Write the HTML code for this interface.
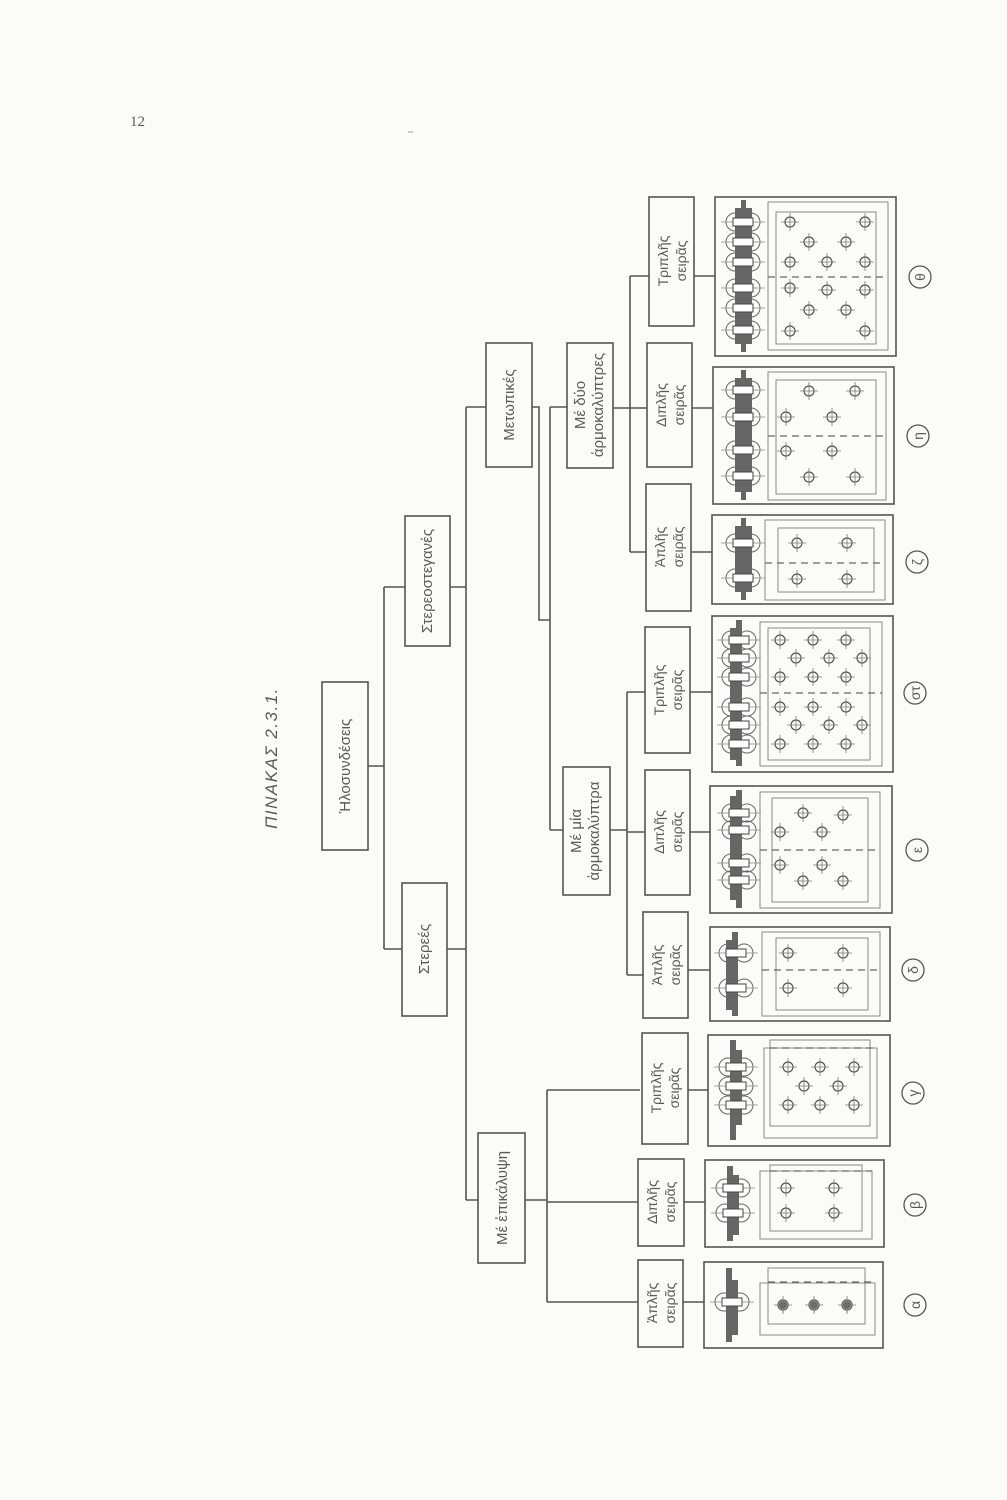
<!DOCTYPE html>
<html><head><meta charset="utf-8"><style>
html,body{margin:0;padding:0;background:#fbfbfa}
svg{display:block}
text{font-family:"Liberation Sans","DejaVu Sans",sans-serif;fill:#5a5a5a}
</style></head><body>
<svg width="1007" height="1500" viewBox="0 0 1007 1500" xmlns="http://www.w3.org/2000/svg">
<defs>
<symbol id="r" overflow="visible"><circle cx="0" cy="0" r="5" fill="none" stroke="#555" stroke-width="1.2"/><line x1="-9" y1="0" x2="9" y2="0" stroke="#777" stroke-width="0.8"/><line x1="0" y1="-9" x2="0" y2="9" stroke="#777" stroke-width="0.8"/></symbol>
<symbol id="rv" overflow="visible"><circle cx="-8" cy="0" r="9" fill="none" stroke="#666" stroke-width="1"/><circle cx="8" cy="0" r="9" fill="none" stroke="#666" stroke-width="1"/><line x1="-22" y1="0" x2="22" y2="0" stroke="#888" stroke-width="0.7"/><rect x="-10" y="-4" width="20" height="8" fill="#fff" stroke="#444" stroke-width="1"/></symbol>
</defs>
<text x="130" y="126" font-family="Liberation Serif" font-size="15" style="font-family:'Liberation Serif',serif">12</text>
<line x1="408" y1="132" x2="413" y2="132" stroke="#999"/>
<text transform="translate(277,758) rotate(-90)" text-anchor="middle" font-size="17" font-style="italic" letter-spacing="1.5">ΠΙΝΑΚΑΣ 2.3.1.</text>

<g fill="none" stroke="#555" stroke-width="1.6">
<!-- connectors -->
<path d="M368 766H384M384 587V949M384 587H405M384 949H402"/>
<path d="M450 587H466M447 949H466M466 407V1200M466 407H486M466 1200H478"/>
<path d="M525 1200H547M547 1090V1302M547 1090H640M547 1202H638M547 1302H638"/>
<path d="M532 407H539V620H550M550 407V830M550 407H567M550 830H563"/>
<path d="M610 830H627M627 692V975M627 692H645M627 832H645M627 975H643"/>
<path d="M613 408H630M630 276V552M630 276H649M630 408H647M630 552H646"/>
<path d="M683 1302H704M684 1202H705M688 1090H708M688 970H710M690 832H710M690 692H712M691 552H712M692 408H713M694 276H715"/>
<!-- boxes -->
<rect x="322" y="682" width="46" height="168"/>
<rect x="402" y="883" width="45" height="133"/>
<rect x="405" y="516" width="45" height="130"/>
<rect x="478" y="1133" width="47" height="130"/>
<rect x="486" y="343" width="46" height="124"/>
<rect x="563" y="767" width="47" height="128"/>
<rect x="567" y="343" width="46" height="125"/>
<rect x="638" y="1260" width="45" height="87"/>
<rect x="638" y="1159" width="46" height="87"/>
<rect x="642" y="1033" width="46" height="111"/>
<rect x="643" y="912" width="45" height="106"/>
<rect x="645" y="770" width="45" height="125"/>
<rect x="645" y="627" width="45" height="126"/>
<rect x="646" y="484" width="45" height="127"/>
<rect x="647" y="343" width="45" height="124"/>
<rect x="649" y="197" width="45" height="129"/>
<!-- panels -->
<rect x="704" y="1262" width="179" height="86"/>
<rect x="705" y="1160" width="179" height="87"/>
<rect x="708" y="1035" width="182" height="111"/>
<rect x="710" y="927" width="180" height="94"/>
<rect x="710" y="786" width="182" height="127"/>
<rect x="712" y="616" width="181" height="156"/>
<rect x="712" y="515" width="181" height="89"/>
<rect x="713" y="367" width="181" height="137"/>
<rect x="715" y="197" width="181" height="159"/>
</g>

<!-- box texts -->
<g font-size="15" text-anchor="middle">
<text transform="translate(350,766) rotate(-90)">Ἡλοσυνδέσεις</text>
<text transform="translate(429,949) rotate(-90)">Στερεές</text>
<text transform="translate(432,581) rotate(-90)">Στερεοστεγανές</text>
<text transform="translate(507,1198) rotate(-90)">Μέ ἐπικάλυψη</text>
<text transform="translate(514,405) rotate(-90)">Μετωπικές</text>
<text transform="translate(581,831) rotate(-90)">Μέ μία</text>
<text transform="translate(599,831) rotate(-90)">ἁρμοκαλύπτρα</text>
<text transform="translate(585,405) rotate(-90)">Μέ δύο</text>
<text transform="translate(603,405) rotate(-90)">ἁρμοκαλύπτρες</text>
</g>
<g font-size="14" text-anchor="middle">
<text transform="translate(657,1303) rotate(-90)">Ἁπλῆς</text><text transform="translate(675,1303) rotate(-90)">σειρᾶς</text>
<text transform="translate(657,1202) rotate(-90)">Διπλῆς</text><text transform="translate(675,1202) rotate(-90)">σειρᾶς</text>
<text transform="translate(661,1088) rotate(-90)">Τριπλῆς</text><text transform="translate(679,1088) rotate(-90)">σειρᾶς</text>
<text transform="translate(662,965) rotate(-90)">Ἁπλῆς</text><text transform="translate(680,965) rotate(-90)">σειρᾶς</text>
<text transform="translate(664,832) rotate(-90)">Διπλῆς</text><text transform="translate(682,832) rotate(-90)">σειρᾶς</text>
<text transform="translate(664,690) rotate(-90)">Τριπλῆς</text><text transform="translate(682,690) rotate(-90)">σειρᾶς</text>
<text transform="translate(665,547) rotate(-90)">Ἁπλῆς</text><text transform="translate(683,547) rotate(-90)">σειρᾶς</text>
<text transform="translate(666,405) rotate(-90)">Διπλῆς</text><text transform="translate(684,405) rotate(-90)">σειρᾶς</text>
<text transform="translate(668,261) rotate(-90)">Τριπλῆς</text><text transform="translate(686,261) rotate(-90)">σειρᾶς</text>
</g>

<!-- circle labels -->
<g fill="none" stroke="#555" stroke-width="1.3">
<circle cx="915" cy="1305" r="11"/><circle cx="915" cy="1205" r="11"/><circle cx="913" cy="1093" r="11"/>
<circle cx="913" cy="970" r="11"/><circle cx="917" cy="850" r="11"/><circle cx="915" cy="693" r="11"/>
<circle cx="917" cy="562" r="11"/><circle cx="918" cy="436" r="11"/><circle cx="920" cy="277" r="11"/>
</g>
<g font-size="14" text-anchor="middle">
<text transform="translate(920,1305) rotate(-90)">α</text><text transform="translate(920,1205) rotate(-90)">β</text>
<text transform="translate(918,1093) rotate(-90)">γ</text><text transform="translate(918,970) rotate(-90)">δ</text>
<text transform="translate(922,850) rotate(-90)">ε</text><text transform="translate(920,693) rotate(-90)">στ</text>
<text transform="translate(922,562) rotate(-90)">ζ</text><text transform="translate(923,436) rotate(-90)">η</text>
<text transform="translate(925,277) rotate(-90)">θ</text>
</g>

<!-- profiles: dark plates -->
<g fill="#666">
<rect x="726" y="1268" width="6" height="74"/><rect x="732" y="1280" width="6" height="55"/>
<rect x="727" y="1166" width="6" height="75"/><rect x="733" y="1175" width="6" height="60"/>
<rect x="730" y="1040" width="6" height="100"/><rect x="736" y="1050" width="6" height="75"/>
<rect x="732" y="932" width="6" height="84"/><rect x="726" y="940" width="6" height="70"/>
<rect x="736" y="790" width="6" height="118"/><rect x="730" y="796" width="6" height="104"/>
<rect x="736" y="620" width="6" height="146"/><rect x="730" y="628" width="6" height="132"/>
<rect x="741" y="518" width="5" height="82"/><rect x="735" y="526" width="6" height="66"/><rect x="746" y="526" width="6" height="66"/>
<rect x="741" y="370" width="5" height="130"/><rect x="735" y="378" width="6" height="114"/><rect x="746" y="378" width="6" height="114"/>
<rect x="741" y="200" width="5" height="152"/><rect x="735" y="208" width="6" height="136"/><rect x="746" y="208" width="6" height="136"/>
</g>
<!-- profile rivets -->
<use href="#rv" x="732" y="1302"/>
<use href="#rv" x="733" y="1188"/><use href="#rv" x="733" y="1213"/>
<use href="#rv" x="736" y="1067"/><use href="#rv" x="736" y="1086"/><use href="#rv" x="736" y="1105"/>
<use href="#rv" x="736" y="953"/><use href="#rv" x="736" y="988"/>
<use href="#rv" x="739" y="813"/><use href="#rv" x="739" y="830"/><use href="#rv" x="739" y="863"/><use href="#rv" x="739" y="880"/>
<use href="#rv" x="739" y="640"/><use href="#rv" x="739" y="658"/><use href="#rv" x="739" y="677"/><use href="#rv" x="739" y="707"/><use href="#rv" x="739" y="725"/><use href="#rv" x="739" y="744"/>
<use href="#rv" x="743" y="543"/><use href="#rv" x="743" y="578"/>
<use href="#rv" x="743" y="390"/><use href="#rv" x="743" y="417"/><use href="#rv" x="743" y="450"/><use href="#rv" x="743" y="476"/>
<use href="#rv" x="743" y="222"/><use href="#rv" x="743" y="242"/><use href="#rv" x="743" y="262"/><use href="#rv" x="743" y="288"/><use href="#rv" x="743" y="308"/><use href="#rv" x="743" y="330"/>

<!-- plan views -->
<g fill="none" stroke="#888" stroke-width="1">
<rect x="760" y="1283" width="115" height="52"/><rect x="768" y="1268" width="97" height="56"/>
<rect x="760" y="1171" width="112" height="68"/><rect x="770" y="1165" width="92" height="66"/>
<rect x="764" y="1048" width="113" height="90"/><rect x="770" y="1040" width="100" height="86"/>
<rect x="762" y="932" width="118" height="84"/><rect x="776" y="938" width="92" height="72"/>
<rect x="760" y="792" width="120" height="116"/><rect x="772" y="798" width="96" height="104"/>
<rect x="760" y="622" width="122" height="144"/><rect x="768" y="628" width="102" height="132"/>
<rect x="765" y="520" width="120" height="80"/><rect x="778" y="528" width="96" height="64"/>
<rect x="768" y="372" width="118" height="128"/><rect x="776" y="380" width="100" height="114"/>
<rect x="768" y="202" width="120" height="148"/><rect x="776" y="212" width="100" height="132"/>
</g>
<g stroke="#666" stroke-width="1.2" stroke-dasharray="7,5">
<line x1="768" y1="1282" x2="875" y2="1282"/><line x1="770" y1="1171" x2="872" y2="1171"/>
<line x1="770" y1="1048" x2="877" y2="1048"/><line x1="762" y1="970" x2="880" y2="970"/>
<line x1="760" y1="850" x2="880" y2="850"/><line x1="760" y1="693" x2="882" y2="693"/>
<line x1="765" y1="563" x2="885" y2="563"/><line x1="768" y1="436" x2="886" y2="436"/>
<line x1="768" y1="277" x2="888" y2="277"/>
</g>
<g fill="#666">
<circle cx="783" cy="1305" r="4"/><circle cx="814" cy="1305" r="4"/><circle cx="847" cy="1305" r="4"/>
</g>
<use href="#r" x="783" y="1305"/><use href="#r" x="814" y="1305"/><use href="#r" x="847" y="1305"/>
<use href="#r" x="786" y="1188"/><use href="#r" x="834" y="1188"/><use href="#r" x="786" y="1213"/><use href="#r" x="834" y="1213"/>
<use href="#r" x="788" y="1067"/><use href="#r" x="820" y="1067"/><use href="#r" x="854" y="1067"/>
<use href="#r" x="804" y="1086"/><use href="#r" x="838" y="1086"/>
<use href="#r" x="788" y="1105"/><use href="#r" x="820" y="1105"/><use href="#r" x="854" y="1105"/>
<use href="#r" x="788" y="953"/><use href="#r" x="843" y="953"/><use href="#r" x="788" y="988"/><use href="#r" x="843" y="988"/>
<use href="#r" x="803" y="813"/><use href="#r" x="843" y="815"/><use href="#r" x="780" y="832"/><use href="#r" x="822" y="832"/>
<use href="#r" x="780" y="865"/><use href="#r" x="822" y="865"/><use href="#r" x="803" y="881"/><use href="#r" x="843" y="881"/>
<use href="#r" x="780" y="640"/><use href="#r" x="813" y="640"/><use href="#r" x="846" y="640"/>
<use href="#r" x="796" y="658"/><use href="#r" x="829" y="658"/><use href="#r" x="862" y="658"/>
<use href="#r" x="780" y="677"/><use href="#r" x="813" y="677"/><use href="#r" x="846" y="677"/>
<use href="#r" x="780" y="707"/><use href="#r" x="813" y="707"/><use href="#r" x="846" y="707"/>
<use href="#r" x="796" y="725"/><use href="#r" x="829" y="725"/><use href="#r" x="862" y="725"/>
<use href="#r" x="780" y="744"/><use href="#r" x="813" y="744"/><use href="#r" x="846" y="744"/>
<use href="#r" x="797" y="543"/><use href="#r" x="847" y="543"/><use href="#r" x="797" y="579"/><use href="#r" x="847" y="579"/>
<use href="#r" x="809" y="391"/><use href="#r" x="855" y="391"/><use href="#r" x="786" y="417"/><use href="#r" x="832" y="417"/>
<use href="#r" x="786" y="451"/><use href="#r" x="832" y="451"/><use href="#r" x="809" y="477"/><use href="#r" x="855" y="477"/>
<use href="#r" x="790" y="222"/><use href="#r" x="865" y="222"/><use href="#r" x="809" y="242"/><use href="#r" x="846" y="242"/>
<use href="#r" x="790" y="262"/><use href="#r" x="827" y="262"/><use href="#r" x="865" y="262"/>
<use href="#r" x="790" y="288"/><use href="#r" x="827" y="290"/><use href="#r" x="865" y="290"/>
<use href="#r" x="809" y="310"/><use href="#r" x="846" y="310"/><use href="#r" x="790" y="331"/><use href="#r" x="865" y="331"/>
</svg>
</body></html>
